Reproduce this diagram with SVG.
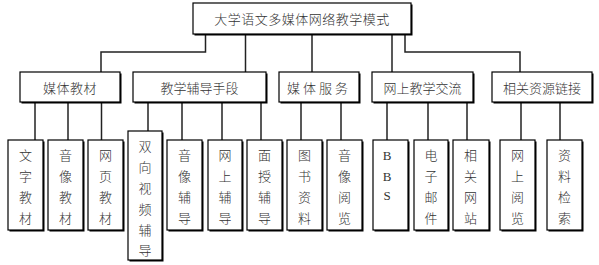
<svg xmlns="http://www.w3.org/2000/svg" width="599" height="265" viewBox="0 0 599 265">
<style>
.box{fill:#fff;stroke:#000;stroke-width:1.2}
.sh{fill:#000}
.t{font-family:"Noto Sans CJK SC","Liberation Serif",sans-serif;font-size:13px;font-weight:300;fill:#333;text-anchor:middle;dominant-baseline:central}
.lat{font-family:"Liberation Serif",serif;font-size:13px;fill:#333;text-anchor:middle;dominant-baseline:central}
.c{fill:none;stroke:#222;stroke-width:1.5}
</style>
<rect width="599" height="265" fill="#fff"/>
<g id="connectors">
<polyline class="c" points="205.5,34 205.5,52 101,52 101,72"/>
<polyline class="c" points="245.5,34 245.5,72"/>
<polyline class="c" points="312,34 312,72"/>
<polyline class="c" points="392,34 392,72"/>
<polyline class="c" points="405,34 405,52 520,52 520,72"/>
<line class="c" x1="35" y1="102" x2="35" y2="140"/>
<line class="c" x1="68" y1="102" x2="68" y2="140"/>
<line class="c" x1="101.5" y1="102" x2="101.5" y2="140"/>
<line class="c" x1="148" y1="102" x2="148" y2="131"/>
<line class="c" x1="182" y1="102" x2="182" y2="140"/>
<line class="c" x1="222" y1="102" x2="222" y2="140"/>
<line class="c" x1="261" y1="102" x2="261" y2="140"/>
<line class="c" x1="301" y1="102" x2="301" y2="140"/>
<line class="c" x1="341" y1="102" x2="341" y2="140"/>
<line class="c" x1="387" y1="102" x2="387" y2="140"/>
<line class="c" x1="428" y1="102" x2="428" y2="140"/>
<line class="c" x1="467" y1="102" x2="467" y2="140"/>
<line class="c" x1="521" y1="102" x2="521" y2="140"/>
<line class="c" x1="560" y1="102" x2="560" y2="140"/>
</g>
<g id="root">
<rect class="sh" x="194.5" y="4.5" width="218" height="31"/>
<rect class="box" x="193" y="3" width="218" height="31"/>
<text class="t" x="302" y="18" letter-spacing="0.5">大学语文多媒体网络教学模式</text>
</g>
<g id="n-media">
<rect class="sh" x="21.5" y="73.5" width="100" height="30"/>
<rect class="box" x="20" y="72" width="100" height="30"/>
<text class="t" x="70" y="87.5" letter-spacing="0.5">媒体教材</text>
</g>
<g id="n-tutor">
<rect class="sh" x="134.5" y="73.5" width="133" height="30"/>
<rect class="box" x="133" y="72" width="133" height="30"/>
<text class="t" x="199.5" y="87.5">教学辅导手段</text>
</g>
<g id="n-service">
<rect class="sh" x="280.5" y="73.5" width="80" height="30"/>
<rect class="box" x="279" y="72" width="80" height="30"/>
<text class="t" x="319" y="87.5" letter-spacing="3">媒体服务</text>
</g>
<g id="n-online">
<rect class="sh" x="373.5" y="73.5" width="101" height="30"/>
<rect class="box" x="372" y="72" width="101" height="30"/>
<text class="t" x="422.5" y="87.5">网上教学交流</text>
</g>
<g id="n-links">
<rect class="sh" x="493.5" y="73.5" width="100" height="30"/>
<rect class="box" x="492" y="72" width="100" height="30"/>
<text class="t" x="542" y="87.5">相关资源链接</text>
</g>
<g id="l-wenzi">
<rect class="sh" x="9.5" y="141.5" width="35" height="90"/>
<rect class="box" x="8" y="140" width="35" height="90"/>
<text class="t"><tspan x="25.5" y="154">文</tspan><tspan x="25.5" y="175">字</tspan><tspan x="25.5" y="196">教</tspan><tspan x="25.5" y="217">材</tspan></text>
</g>
<g id="l-yinxiang">
<rect class="sh" x="49.5" y="141.5" width="35" height="90"/>
<rect class="box" x="48" y="140" width="35" height="90"/>
<text class="t"><tspan x="65.5" y="154">音</tspan><tspan x="65.5" y="175">像</tspan><tspan x="65.5" y="196">教</tspan><tspan x="65.5" y="217">材</tspan></text>
</g>
<g id="l-wangye">
<rect class="sh" x="89.5" y="141.5" width="35" height="90"/>
<rect class="box" x="88" y="140" width="35" height="90"/>
<text class="t"><tspan x="105.5" y="154">网</tspan><tspan x="105.5" y="175">页</tspan><tspan x="105.5" y="196">教</tspan><tspan x="105.5" y="217">材</tspan></text>
</g>
<g id="l-shuangxiang">
<rect class="sh" x="129.5" y="132.5" width="34" height="129"/>
<rect class="box" x="128" y="131" width="34" height="129"/>
<text class="t"><tspan x="145" y="145">双</tspan><tspan x="145" y="166">向</tspan><tspan x="145" y="187">视</tspan><tspan x="145" y="208">频</tspan><tspan x="145" y="229">辅</tspan><tspan x="145" y="249">导</tspan></text>
</g>
<g id="l-yinxiangfd">
<rect class="sh" x="168.5" y="141.5" width="35" height="90"/>
<rect class="box" x="167" y="140" width="35" height="90"/>
<text class="t"><tspan x="184.5" y="154">音</tspan><tspan x="184.5" y="175">像</tspan><tspan x="184.5" y="196">辅</tspan><tspan x="184.5" y="217">导</tspan></text>
</g>
<g id="l-wangshangfd">
<rect class="sh" x="209.5" y="141.5" width="34" height="90"/>
<rect class="box" x="208" y="140" width="34" height="90"/>
<text class="t"><tspan x="225" y="154">网</tspan><tspan x="225" y="175">上</tspan><tspan x="225" y="196">辅</tspan><tspan x="225" y="217">导</tspan></text>
</g>
<g id="l-mianshou">
<rect class="sh" x="248.5" y="141.5" width="35" height="90"/>
<rect class="box" x="247" y="140" width="35" height="90"/>
<text class="t"><tspan x="264.5" y="154">面</tspan><tspan x="264.5" y="175">授</tspan><tspan x="264.5" y="196">辅</tspan><tspan x="264.5" y="217">导</tspan></text>
</g>
<g id="l-tushu">
<rect class="sh" x="288.5" y="141.5" width="35" height="90"/>
<rect class="box" x="287" y="140" width="35" height="90"/>
<text class="t"><tspan x="304.5" y="154">图</tspan><tspan x="304.5" y="175">书</tspan><tspan x="304.5" y="196">资</tspan><tspan x="304.5" y="217">料</tspan></text>
</g>
<g id="l-yinxiangyl">
<rect class="sh" x="328.5" y="141.5" width="35" height="90"/>
<rect class="box" x="327" y="140" width="35" height="90"/>
<text class="t"><tspan x="344.5" y="154">音</tspan><tspan x="344.5" y="175">像</tspan><tspan x="344.5" y="196">阅</tspan><tspan x="344.5" y="217">览</tspan></text>
</g>
<g id="l-bbs">
<rect class="sh" x="374.5" y="141.5" width="35" height="90"/>
<rect class="box" x="373" y="140" width="35" height="90"/>
<text class="lat"><tspan x="387" y="155">B</tspan><tspan x="387" y="175.5">B</tspan><tspan x="387" y="195">S</tspan></text>
</g>
<g id="l-email">
<rect class="sh" x="415.5" y="141.5" width="34" height="90"/>
<rect class="box" x="414" y="140" width="34" height="90"/>
<text class="t"><tspan x="431" y="154">电</tspan><tspan x="431" y="175">子</tspan><tspan x="431" y="196">邮</tspan><tspan x="431" y="217">件</tspan></text>
</g>
<g id="l-sites">
<rect class="sh" x="454.5" y="141.5" width="36" height="90"/>
<rect class="box" x="453" y="140" width="36" height="90"/>
<text class="t"><tspan x="470.5" y="154">相</tspan><tspan x="470.5" y="175">关</tspan><tspan x="470.5" y="196">网</tspan><tspan x="470.5" y="217">站</tspan></text>
</g>
<g id="l-browse">
<rect class="sh" x="501.5" y="141.5" width="35" height="90"/>
<rect class="box" x="500" y="140" width="35" height="90"/>
<text class="t"><tspan x="517.5" y="154">网</tspan><tspan x="517.5" y="175">上</tspan><tspan x="517.5" y="196">阅</tspan><tspan x="517.5" y="217">览</tspan></text>
</g>
<g id="l-search">
<rect class="sh" x="548.5" y="141.5" width="35" height="90"/>
<rect class="box" x="547" y="140" width="35" height="90"/>
<text class="t"><tspan x="564.5" y="154">资</tspan><tspan x="564.5" y="175">料</tspan><tspan x="564.5" y="196">检</tspan><tspan x="564.5" y="217">索</tspan></text>
</g>
</svg>
